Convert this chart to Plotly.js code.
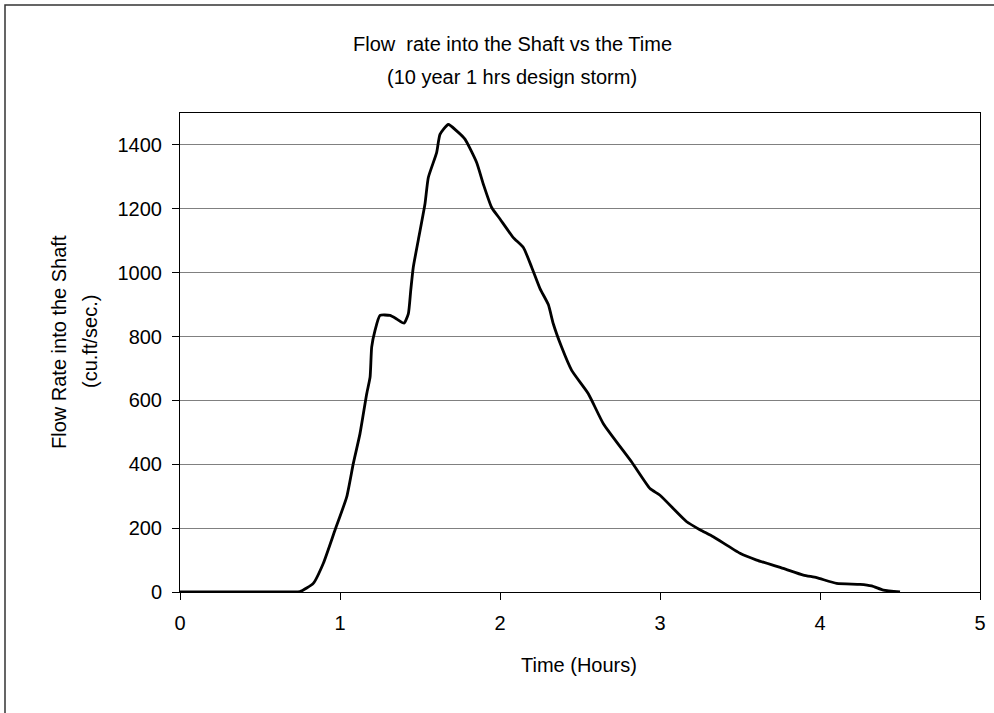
<!DOCTYPE html>
<html>
<head>
<meta charset="utf-8">
<script src="https://cdn.plot.ly/plotly-3.0.1.min.js"></script>
<style>
html,body{margin:0;padding:0;background:#fff;}
#chart{width:994px;height:713px;}
</style>
</head>
<body>
<div id="chart"></div>
<script>
var timeHours = [0, 0.25, 0.5, 0.7, 0.75, 0.833, 0.896, 0.969, 1.042, 1.083, 1.125, 1.167, 1.188, 1.198, 1.219, 1.25, 1.3125, 1.354, 1.4, 1.427, 1.442, 1.458, 1.49, 1.531, 1.552, 1.604, 1.625, 1.677, 1.729, 1.781, 1.854, 1.896, 1.948, 2.0, 2.083, 2.146, 2.198, 2.25, 2.302, 2.333, 2.385, 2.448, 2.552, 2.646, 2.823, 2.9375, 3.0, 3.167, 3.25, 3.333, 3.5, 3.604, 3.77, 3.896, 3.979, 4.104, 4.25, 4.323, 4.396, 4.5];
var flowRate = [0, 0, 0, 0, 1, 27, 90, 194, 298, 402, 496, 621, 673, 767, 819, 866, 866, 855, 842, 871, 944, 1017, 1104, 1215, 1298, 1376, 1433, 1464, 1444, 1418, 1345, 1277, 1204, 1168, 1110, 1079, 1017, 950, 900, 840, 767, 694, 621, 527, 407, 324, 303, 220, 195, 173, 121, 100, 74, 53, 45, 27, 24, 19, 6, 0];
var xTicks = [0, 1, 2, 3, 4, 5];
var yTicks = [0, 200, 400, 600, 800, 1000, 1200, 1400];
var titleLines = ["Flow  rate into the Shaft vs the Time", "(10 year 1 hrs design storm)"];
var yTitleLines = ["Flow Rate into the Shaft", "(cu.ft/sec.)"];
var xTitle = "Time (Hours)";

var font = "Liberation Sans, Arial, sans-serif";
var FS = 20;
var L = 180, R = 14, T = 113, B = 121, W = 994, H = 713;
var pw = W - L - R, ph = H - T - B;
function px(x){ return (x - L) / pw; }
function py(y){ return (H - B - y) / ph; }

var trace = {
  x: timeHours, y: flowRate, type: 'scatter', mode: 'lines',
  line: {color: '#000', width: 2.8, shape: 'spline', smoothing: 0.5}, hoverinfo: 'skip'
};

var tf = {family: font, size: FS, color: '#000'};
var layout = {
  width: W, height: H,
  margin: {l: L, r: R, t: T, b: B},
  paper_bgcolor: '#fff', plot_bgcolor: '#fff',
  showlegend: false,
  font: tf,
  xaxis: {
    range: [0, 5], tickvals: xTicks, ticktext: xTicks.map(String),
    showgrid: false, zeroline: false,
    showline: true, linecolor: '#000', linewidth: 1, mirror: true,
    ticks: 'outside', ticklen: 7, tickcolor: '#000', tickwidth: 1,
    ticklabelstandoff: 6,
    tickfont: tf
  },
  yaxis: {
    range: [0, 1500], tickvals: yTicks, ticktext: yTicks.map(String),
    showgrid: true, gridcolor: '#808080', gridwidth: 1, zeroline: false,
    showline: true, linecolor: '#000', linewidth: 1, mirror: true,
    ticks: 'outside', ticklen: 7, tickcolor: '#000', tickwidth: 1,
    ticklabelstandoff: 6,
    tickfont: tf
  },
  annotations: [
    {text: titleLines[0], xref: 'paper', yref: 'paper', x: px(512), y: py(44), xanchor: 'center', yanchor: 'middle', showarrow: false, font: tf},
    {text: titleLines[1], xref: 'paper', yref: 'paper', x: px(512), y: py(77), xanchor: 'center', yanchor: 'middle', showarrow: false, font: tf},
    {text: yTitleLines[0], xref: 'paper', yref: 'paper', x: px(59), y: py(342), xanchor: 'center', yanchor: 'middle', textangle: -90, showarrow: false, font: tf},
    {text: yTitleLines[1], xref: 'paper', yref: 'paper', x: px(90), y: py(342), xanchor: 'center', yanchor: 'middle', textangle: -90, showarrow: false, font: tf},
    {text: xTitle, xref: 'paper', yref: 'paper', x: px(579), y: py(665), xanchor: 'center', yanchor: 'middle', showarrow: false, font: tf}
  ],
  shapes: [
    {type: 'rect', xref: 'paper', yref: 'paper', x0: px(5), x1: px(1000), y0: py(720), y1: py(5), line: {color: '#333', width: 1.5}, fillcolor: 'rgba(0,0,0,0)', layer: 'below'}
  ]
};

Plotly.newPlot('chart', [trace], layout, {displayModeBar: false, staticPlot: true});
</script>
</body>
</html>
